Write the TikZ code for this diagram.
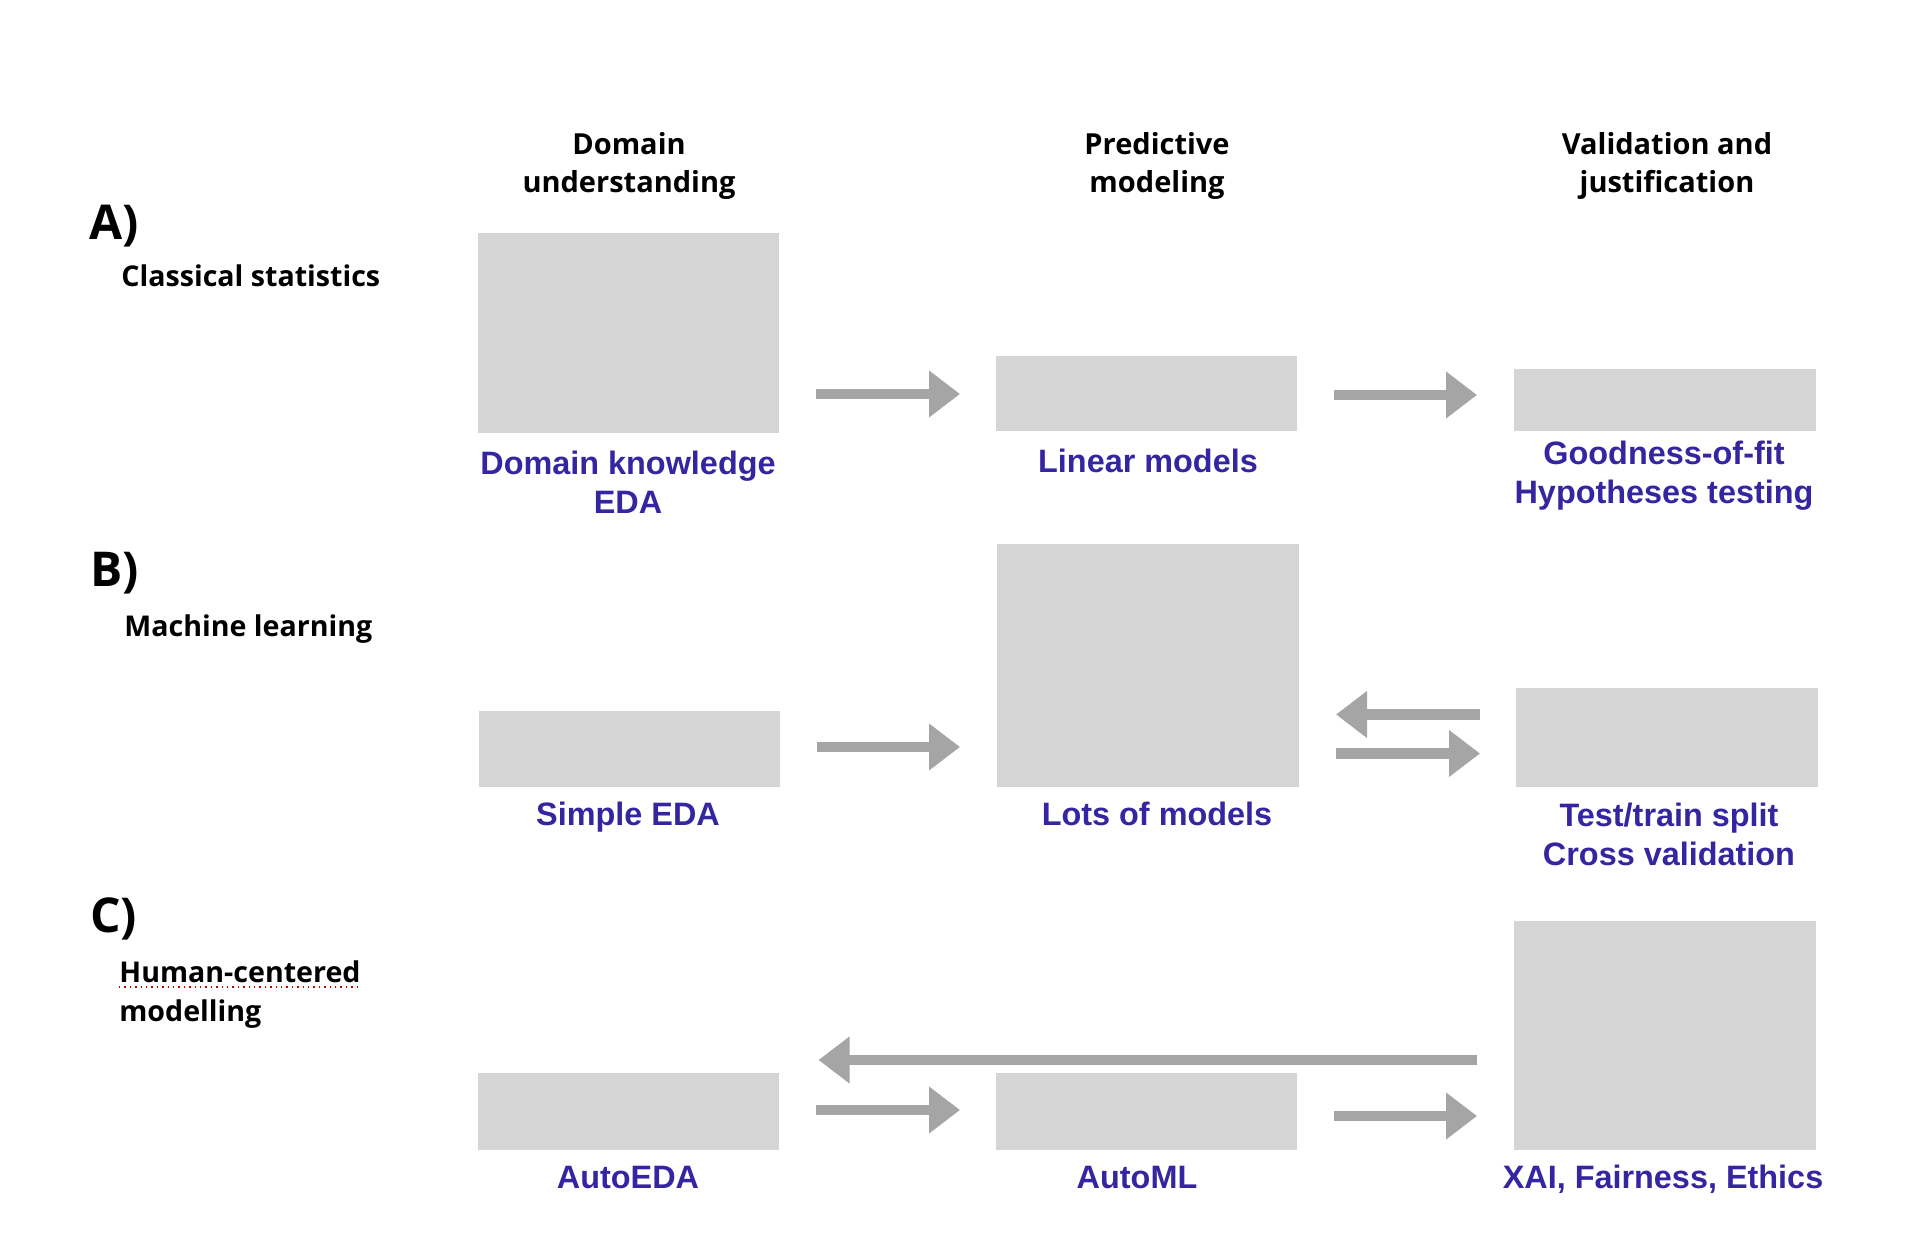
\documentclass[tikz,border=0pt]{standalone}
\usepackage{fontspec}
\setmainfont{Liberation Sans}
\newfontfamily\widef{Open Sans}
\usetikzlibrary{arrows.meta,calc}
\definecolor{boxc}{RGB}{213,213,213}
\definecolor{arrc}{RGB}{165,165,165}
\definecolor{labc}{RGB}{53,37,160}
\begin{document}
\begin{tikzpicture}[x=0.5pt,y=-0.5pt,
  box/.style={fill=boxc,draw=none,inner sep=0pt,outer sep=0pt},
  lab/.style={text=labc,font=\bfseries\fontsize{16.2}{19.7}\selectfont,align=center,inner sep=0pt},
  head/.style={font=\widef\bfseries\fontsize{14.5}{19}\selectfont,align=center,inner sep=0pt},
  rowlet/.style={font=\widef\bfseries\fontsize{24}{28}\selectfont,anchor=base west,inner sep=0pt},
  rowname/.style={font=\widef\bfseries\fontsize{14.3}{19.5}\selectfont,anchor=base west,inner sep=0pt},
  flow/.style={draw=arrc,line width=5.3pt,-{Triangle[width=22.5pt,length=15.5pt]},arrc},
]
\useasboundingbox (0,0) rectangle (1930,1240);
% column heads
\node[head] (h1) at (629,166) {Domain\\understanding};
\node[head] (h2) at (1157,166) {Predictive\\modeling};
\node[head] (h3) at (1667,166) {Validation and\\justification};
% row names
\node[rowlet] (ra) at (89,240) {A)};
\node[rowname] (rna) at (121,287) {Classical statistics};
\node[rowlet] (rb) at (90,586) {B)};
\node[rowname] (rnb) at (124,636) {Machine learning};
\node[rowlet] (rc) at (90,932) {C)};
\node[rowname] (rnc1) at (119,982) {Human-centered};
\node[rowname] (rnc2) at (119,1021) {modelling};
\draw[red!80!black,line width=0.7pt,dotted] (rnc1.base west) ++(0,5) -- ($(rnc1.base east)+(0,5)$);
% row A boxes
\node[box,minimum width=150.5pt,minimum height=100pt] (a1) at (628.5,333) {};
\node[box,minimum width=150.5pt,minimum height=37.5pt] (a2) at (1146.5,393.5) {};
\node[box,minimum width=151pt,minimum height=31pt] (a3) at (1665,400) {};
% row B boxes
\node[box,minimum width=150.5pt,minimum height=38pt] (b1) at (629.5,749) {};
\node[box,minimum width=151pt,minimum height=121.5pt] (b2) at (1148,665.5) {};
\node[box,minimum width=151pt,minimum height=49.5pt] (b3) at (1667,737.5) {};
% row C boxes
\node[box,minimum width=150.5pt,minimum height=38.5pt] (c1) at (628.5,1111.5) {};
\node[box,minimum width=150.5pt,minimum height=38.5pt] (c2) at (1146.5,1111.5) {};
\node[box,minimum width=151pt,minimum height=114.5pt] (c3) at (1665,1035.5) {};
% labels
\node[lab,anchor=north] (la1) at (628,450.4) {Domain knowledge\\EDA};
\node[lab,anchor=base] (la2) at (1148,473) {Linear models};
\node[lab,anchor=north] (la3) at (1664,440.4) {Goodness-of-fit\\Hypotheses testing};
\node[lab,anchor=base] (lb1) at (628,825) {Simple EDA};
\node[lab,anchor=base] (lb2) at (1157,825) {Lots of models};
\node[lab,anchor=north] (lb3) at (1669,802.4) {Test/train split\\Cross validation};
\node[lab,anchor=base] (lc1) at (628,1188) {AutoEDA};
\node[lab,anchor=base] (lc2) at (1137,1188) {AutoML};
\node[lab,anchor=base] (lc3) at (1663,1188) {XAI, Fairness, Ethics};
% arrows
\draw[flow,shorten <=18.5pt,shorten >=18pt] ($(a1.east|-a2.west)+(0,0.5)$) -- ($(a2.west)+(0,0.5)$);
\draw[flow,shorten <=18.5pt,shorten >=18.5pt] ($(a2.east)+(0,1.5)$) -- ($(a2.east-|a3.west)+(0,1.5)$);
\draw[flow,shorten <=18.5pt,shorten >=18.5pt] ($(b1.east)+(0,-2)$) -- ($(b1.east-|b2.west)+(0,-2)$);
\draw[flow,shorten <=18pt,shorten >=18.5pt] ($(b3.west)+(0,-23)$) -- ($(b3.west-|b2.east)+(0,-23)$);
\draw[flow,shorten <=18.5pt,shorten >=18pt] ($(b2.east|-b3.west)+(0,16)$) -- ($(b3.west)+(0,16)$);
\draw[flow,shorten <=18.5pt,shorten >=18pt] ($(c1.east)+(0,-1.5)$) -- ($(c1.east-|c2.west)+(0,-1.5)$);
\draw[flow,shorten <=18.5pt,shorten >=18.5pt] ($(c2.east)+(0,4.5)$) -- ($(c2.east-|c3.west)+(0,4.5)$);
\coordinate (lt) at (0,1060);
\draw[flow,shorten <=18.5pt,shorten >=19.75pt] (c3.west|-lt) -- (c1.east|-lt);
\end{tikzpicture}
\end{document}
